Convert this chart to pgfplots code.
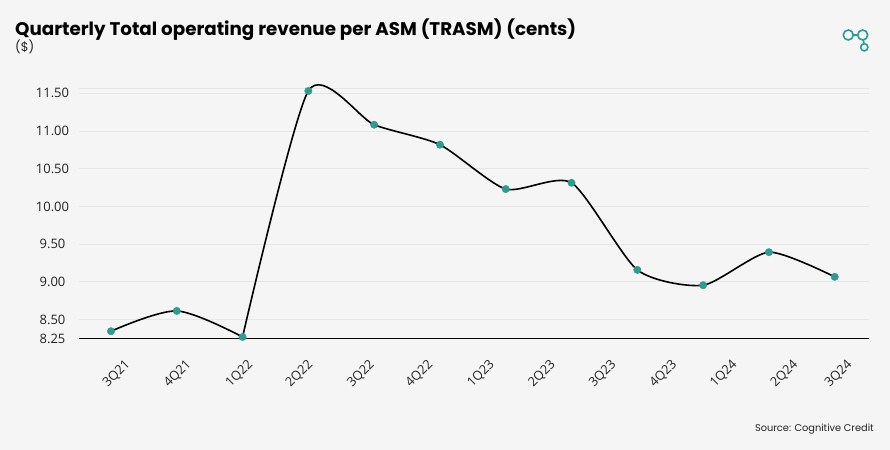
\documentclass[border=0pt]{standalone}
\usepackage{pgfplots}
\pgfplotsset{compat=1.18}
\usepackage{fontspec}
\setmainfont{Open Sans}
\newfontfamily\titlefont{Poppins}
\definecolor{bg}{HTML}{F5F5F5}
\definecolor{teal}{HTML}{2A9D8F}
\definecolor{gridc}{HTML}{E6E6E6}
\definecolor{txt}{HTML}{222222}
\begin{document}
\begin{tikzpicture}[x=1bp,y=1bp]
\fill[bg] (0,0) rectangle (890,450);
% title
\node[anchor=base west, inner sep=0pt, text=black] at (15,414) {\titlefont\bfseries\fontsize{18.3bp}{21bp}\selectfont Quarterly Total operating revenue per ASM (TRASM) (cents)};
\node[anchor=base west, inner sep=0pt, text=txt] at (15,398) {\titlefont\fontsize{12.5bp}{14bp}\selectfont (\$)};
\node[anchor=east, inner sep=0pt, text=txt] at (874,21) {\titlefont\fontsize{9.8bp}{11bp}\selectfont Source: Cognitive Credit};
% logo
\begin{scope}[teal, line width=1.6bp]
\draw (848.3,415) circle (5);
\draw (862.7,415) circle (5);
\draw (853.3,415) -- (857.7,415);
\draw (863.3,410) -- (864,406.4);
\draw (864.3,402.7) circle (3.6);
\end{scope}
\begin{axis}[
  at={(79bp,111.6bp)}, anchor=south west,
  scale only axis, width=789.7bp, height=250.1bp,
  xmin=-0.486, xmax=11.517, ymin=8.25, ymax=11.566,
  axis line style={draw=none},
  major tick length=0pt,
  ytick={8.25,8.5,9,9.5,10,10.5,11,11.5},
  yticklabels={8.25,8.50,9.00,9.50,10.00,10.50,11.00,11.50},
  extra y ticks={11.566}, extra y tick labels={},
  extra y tick style={grid=major},
  ymajorgrids, grid style={gridc, line width=0.8bp},
  yticklabel style={anchor=center, xshift=-26.5bp, font=\fontsize{13bp}{15bp}\selectfont, text=txt},
  xtick={0.198,1.125,2.063,2.975,3.911,4.799,5.735,6.662,7.585,8.507,9.424,10.346,11.17},
  xticklabels={3Q21,4Q21,1Q22,2Q22,3Q22,4Q22,1Q23,2Q23,3Q23,4Q23,1Q24,2Q24,3Q24},
  xticklabel shift=20bp,
  xticklabel style={rotate=45, anchor=north east, inner sep=0pt, font=\fontsize{12.8bp}{14bp}\selectfont, text=txt},
  clip=false,
]
\addplot[black, line width=1.6bp, smooth, tension=0.5] coordinates {
(0,8.345) (1,8.614) (2,8.269)};
\addplot[black, line width=1.6bp, smooth, tension=0.4] coordinates {
(2,8.269) (3,11.531) (4,11.083) (5,10.818)
(6,10.230) (7,10.313) (8,9.158) (9,8.955) (10,9.393) (11,9.066)};
\draw[black, line width=1.3bp] (rel axis cs:0,0) -- (rel axis cs:1,0);
\addplot[only marks, mark=*, mark size=3.7bp, teal, mark options={draw=teal, fill=teal}] coordinates {
(0,8.345) (1,8.614) (2,8.269) (3,11.531) (4,11.083) (5,10.818)
(6,10.230) (7,10.313) (8,9.158) (9,8.955) (10,9.393) (11,9.066)};
\end{axis}
\end{tikzpicture}
\end{document}
